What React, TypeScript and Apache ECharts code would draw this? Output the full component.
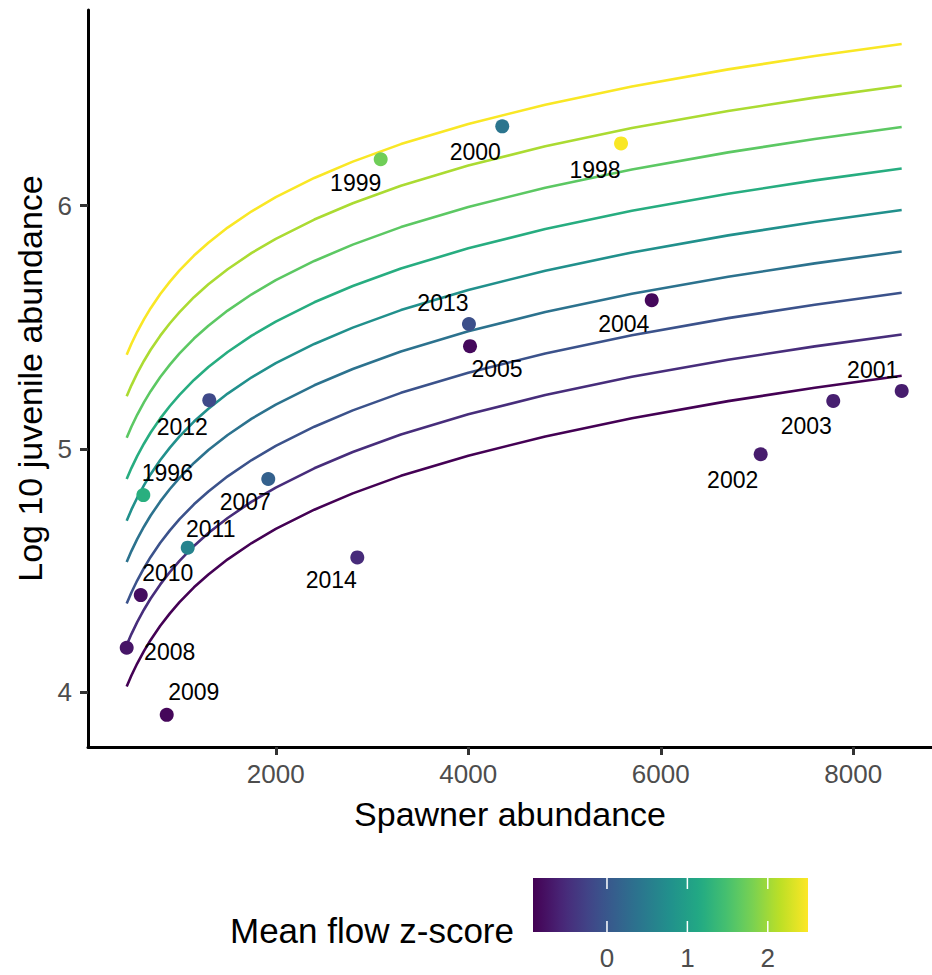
import React, { useEffect, useRef } from "react";
import * as echarts from "echarts";

// ---- Observed points (one per year) ----
const years = [1996, 1998, 1999, 2000, 2001, 2002, 2003, 2004, 2005, 2007, 2008, 2009, 2010, 2011, 2012, 2013, 2014];
const spawners = [624, 5587, 3090, 4353, 8503, 7038, 7792, 5906, 4018, 1922, 451, 867, 597, 1085, 1309, 4007, 2847];
const logJuveniles = [4.811, 6.256, 6.191, 6.326, 5.239, 4.979, 5.198, 5.612, 5.423, 4.877, 4.184, 3.908, 4.4, 4.595, 5.201, 5.514, 4.555];
const flowZ = [1.23, 2.48, 1.75, 0.4, -0.65, -0.66, -0.63, -0.85, -0.84, 0.13, -0.72, -0.86, -0.8, 0.6, -0.17, -0.1, -0.51];

// ---- Fitted curves ----
const curveSpawners = [451, 500, 560, 630, 700, 800, 900, 1000, 1150, 1300, 1500, 1750, 2000, 2400, 2800, 3300, 4000, 4800, 5700, 6700, 7600, 8503];
const curveFlowZ = [-0.92, -0.49, -0.07, 0.36, 0.78, 1.21, 1.63, 2.06, 2.48];
const curve0 = [4.025, 4.07, 4.119, 4.17, 4.216, 4.274, 4.325, 4.371, 4.432, 4.485, 4.547, 4.614, 4.672, 4.751, 4.818, 4.89, 4.973, 5.052, 5.127, 5.197, 5.252, 5.301];
const curve1 = [4.195, 4.24, 4.289, 4.34, 4.386, 4.444, 4.495, 4.541, 4.602, 4.655, 4.717, 4.784, 4.842, 4.921, 4.988, 5.06, 5.143, 5.222, 5.297, 5.367, 5.422, 5.471];
const curve2 = [4.366, 4.411, 4.46, 4.511, 4.557, 4.615, 4.666, 4.712, 4.773, 4.826, 4.888, 4.955, 5.013, 5.092, 5.159, 5.231, 5.314, 5.393, 5.468, 5.538, 5.593, 5.642];
const curve3 = [4.536, 4.581, 4.63, 4.681, 4.727, 4.785, 4.836, 4.882, 4.943, 4.996, 5.058, 5.125, 5.183, 5.262, 5.329, 5.401, 5.484, 5.563, 5.638, 5.708, 5.763, 5.812];
const curve4 = [4.706, 4.751, 4.8, 4.851, 4.897, 4.955, 5.006, 5.052, 5.113, 5.166, 5.228, 5.295, 5.353, 5.432, 5.499, 5.571, 5.654, 5.733, 5.808, 5.878, 5.933, 5.982];
const curve5 = [4.877, 4.922, 4.971, 5.022, 5.068, 5.126, 5.177, 5.223, 5.284, 5.337, 5.399, 5.466, 5.524, 5.603, 5.67, 5.742, 5.825, 5.904, 5.979, 6.049, 6.104, 6.153];
const curve6 = [5.047, 5.092, 5.141, 5.192, 5.238, 5.296, 5.347, 5.393, 5.454, 5.507, 5.569, 5.636, 5.694, 5.773, 5.84, 5.912, 5.995, 6.074, 6.149, 6.219, 6.274, 6.323];
const curve7 = [5.217, 5.262, 5.311, 5.362, 5.408, 5.466, 5.517, 5.563, 5.624, 5.677, 5.739, 5.806, 5.864, 5.943, 6.01, 6.082, 6.165, 6.244, 6.319, 6.389, 6.444, 6.493];
const curve8 = [5.388, 5.433, 5.482, 5.533, 5.579, 5.637, 5.688, 5.734, 5.795, 5.848, 5.91, 5.977, 6.035, 6.114, 6.181, 6.253, 6.336, 6.415, 6.49, 6.56, 6.615, 6.664];
const curves = [curve0, curve1, curve2, curve3, curve4, curve5, curve6, curve7, curve8];

// ---- Axes / legend ticks ----
const xTicks = [2000, 4000, 6000, 8000];
const yTicks = [4, 5, 6];
const legendTicks = [0, 1, 2];
const zRange = [-0.92, 2.5];

// label placement (pixel offsets from each point, same order as years)
const labelOffsets: [number, number][] = [
  [24, -22], [-26, 27], [-25, 24], [-27, 26], [-29, -21], [-28, 26], [-27, 25], [-28, 24], [27, 23],
  [-23, 23], [43, 4], [27, -23], [27, -22], [23, -19], [-27, 27], [-26, -21], [-26, 23],
];

const FONT = "'Liberation Sans', Arial, Helvetica, sans-serif";

const VIRIDIS: [number, string][] = [
  [0, "#440154"], [0.1, "#482475"], [0.125, "#472d7b"], [0.2, "#414487"], [0.25, "#3b528b"],
  [0.3, "#355f8d"], [0.375, "#2c728e"], [0.4, "#2a788e"], [0.5, "#21918c"], [0.6, "#22a884"],
  [0.625, "#28ae80"], [0.7, "#44bf70"], [0.75, "#5ec962"], [0.8, "#7ad151"], [0.875, "#addc30"],
  [0.9, "#bddf26"], [1, "#fde725"],
];

function hexToRgb(h: string): number[] {
  const n = parseInt(h.slice(1), 16);
  return [(n >> 16) & 255, (n >> 8) & 255, n & 255];
}

function viridis(t: number): string {
  const tt = Math.max(0, Math.min(1, t));
  for (let i = 1; i < VIRIDIS.length; i++) {
    const [o1, c1] = VIRIDIS[i];
    const [o0, c0] = VIRIDIS[i - 1];
    if (tt <= o1) {
      const f = (tt - o0) / (o1 - o0);
      const a = hexToRgb(c0);
      const b = hexToRgb(c1);
      const r = a.map((v, k) => Math.round(v + (b[k] - v) * f));
      return `rgb(${r[0]},${r[1]},${r[2]})`;
    }
  }
  return VIRIDIS[VIRIDIS.length - 1][1];
}

function zColor(z: number): string {
  return viridis((z - zRange[0]) / (zRange[1] - zRange[0]));
}

export default function App() {
  const ref = useRef<HTMLDivElement>(null);

  useEffect(() => {
    if (!ref.current) return;
    const chart = echarts.init(ref.current, undefined, { renderer: "svg" });

    const lineSeries = curves.map((c, i) => ({
      type: "line",
      name: `z=${curveFlowZ[i]}`,
      data: curveSpawners.map((s, j) => [s, c[j]]),
      showSymbol: false,
      smooth: false,
      silent: true,
      z: 2,
      lineStyle: { color: zColor(curveFlowZ[i]), width: 2.6, join: "round" },
    }));

    const scatterData = years.map((yr, i) => ({
      value: [spawners[i], logJuveniles[i]],
      name: String(yr),
      itemStyle: { color: zColor(flowZ[i]), opacity: 1 },
      label: { offset: labelOffsets[i] },
    }));

    // legend colour bar
    const barL = 533, barT = 878, barW = 275, barH = 54;
    const tickX = (z: number) => barL + ((z - zRange[0]) / (zRange[1] - zRange[0])) * barW;
    const legendGraphics: any[] = [
      {
        type: "text",
        left: 230,
        top: 913,
        style: { text: "Mean flow z-score", font: `35px ${FONT}`, fill: "#000" },
      },
      {
        type: "rect",
        shape: { x: barL, y: barT, width: barW, height: barH },
        style: {
          fill: {
            type: "linear", x: 0, y: 0, x2: 1, y2: 0,
            colorStops: VIRIDIS.map(([o, c]) => ({ offset: o, color: c })),
          },
        },
      },
    ];
    legendTicks.forEach((z) => {
      const x = tickX(z);
      legendGraphics.push(
        { type: "line", shape: { x1: x, y1: barT, x2: x, y2: barT + 11 }, style: { stroke: "#fff", lineWidth: 1.5 } },
        { type: "line", shape: { x1: x, y1: barT + barH - 11, x2: x, y2: barT + barH }, style: { stroke: "#fff", lineWidth: 1.5 } },
        {
          type: "text",
          x,
          y: 958,
          style: { text: String(z), font: `26px ${FONT}`, fill: "#4d4d4d", align: "center", verticalAlign: "middle" },
        }
      );
    });

    chart.setOption({
      animation: false,
      backgroundColor: "#fff",
      grid: { left: 88, right: 0, top: 10, bottom: 228, containLabel: false },
      xAxis: {
        type: "value",
        min: 49,
        max: 8818,
        name: "Spawner abundance",
        nameLocation: "middle",
        nameGap: 50,
        nameTextStyle: { fontSize: 34, fontFamily: FONT, color: "#000" },
        axisLine: { show: true, onZero: false, lineStyle: { color: "#000", width: 3 } },
        axisTick: { show: true, length: 8, customValues: xTicks, lineStyle: { color: "#333", width: 3 } },
        axisLabel: {
          customValues: xTicks,
          formatter: (v: number) => String(v),
          fontSize: 26,
          fontFamily: FONT,
          color: "#4d4d4d",
          margin: 14,
        },
        splitLine: { show: false },
      },
      yAxis: {
        type: "value",
        min: 3.776,
        max: 6.804,
        name: "Log 10 juvenile abundance",
        nameLocation: "middle",
        nameGap: 41,
        nameRotate: 90,
        nameTextStyle: { fontSize: 34, fontFamily: FONT, color: "#000" },
        axisLine: { show: true, onZero: false, lineStyle: { color: "#000", width: 3 } },
        axisTick: { show: true, length: 8, customValues: yTicks, lineStyle: { color: "#333", width: 3 } },
        axisLabel: {
          customValues: yTicks,
          formatter: (v: number) => String(v),
          fontSize: 26,
          fontFamily: FONT,
          color: "#4d4d4d",
          margin: 16,
        },
        splitLine: { show: false },
      },
      series: [
        ...lineSeries,
        {
          type: "scatter",
          data: scatterData,
          symbolSize: 14,
          z: 3,
          itemStyle: { opacity: 1 },
          label: {
            show: true,
            position: "inside",
            formatter: (p: any) => p.name,
            fontSize: 23,
            fontFamily: FONT,
            color: "#000",
          },
        },
      ],
      graphic: legendGraphics,
    });

    return () => chart.dispose();
  }, []);

  return (
    <div
      ref={ref}
      style={{ position: "fixed", left: 0, top: 0, width: 932, height: 975, background: "#fff" }}
    />
  );
}
